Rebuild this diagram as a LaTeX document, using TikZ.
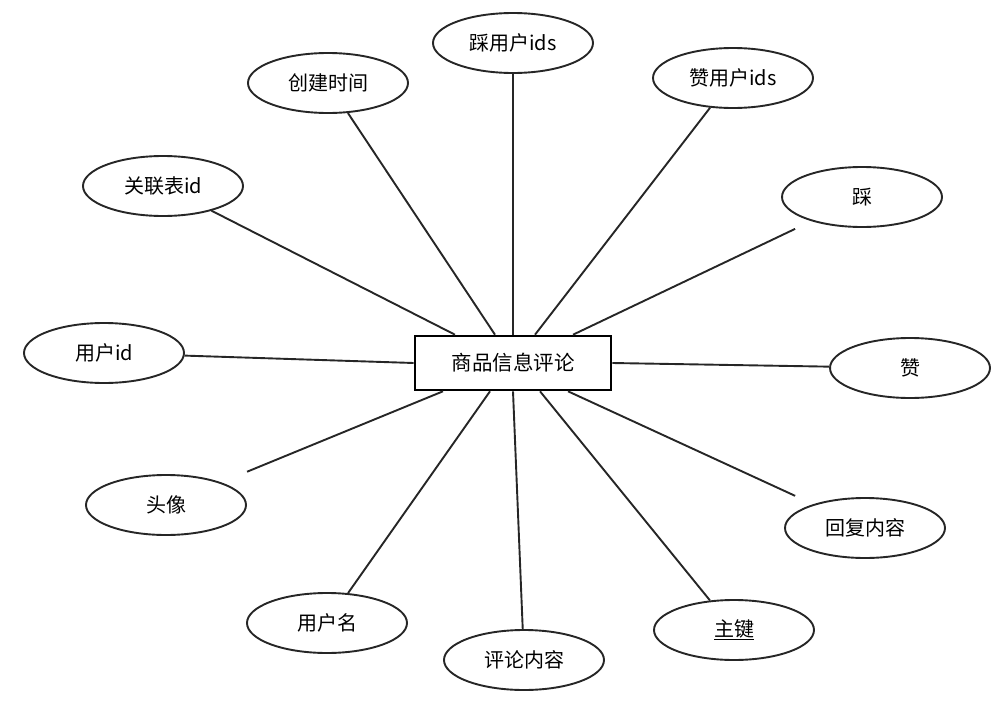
\documentclass[tikz,border=0pt]{standalone}
\usepackage{fontspec}
\usepackage{tikz}
\usetikzlibrary{shapes.geometric}
\newfontfamily\cjk{Noto Sans CJK SC}

\begin{document}
\begin{tikzpicture}[
    x=1pt, y=-1pt,
    entity/.style={rectangle, draw=black, line width=2.6pt, fill=white, minimum width=196pt, minimum height=54pt, font=\cjk\fontsize{20.5}{24}\selectfont},
    attr/.style={ellipse, draw=black!85, line width=1.9pt, fill=white, minimum width=160pt, minimum height=60pt, inner sep=0pt, font=\cjk\fontsize{20}{24}\selectfont},
    link/.style={draw=black!85, line width=1.9pt}
]
    \useasboundingbox (0,0) rectangle (1007,720);

    % Central entity
    \node[entity] (comment) at (513,363) {商品信息评论};

    % Attributes
    \node[attr] (caiids) at (513,43) {踩用户ids};
    \node[attr] (ctime) at (328,83) {创建时间};
    \node[attr] (zanids) at (733,78) {赞用户ids};
    \node[attr] (relid) at (163,186) {关联表id};
    \node[attr] (cai) at (862,197) {踩};
    \node[attr] (userid) at (104,353) {用户id};
    \node[attr] (zan) at (910,368) {赞};
    \node[attr] (avatar) at (166,505) {头像};
    \node[attr] (reply) at (865,528) {回复内容};
    \node[attr] (uname) at (327,623) {用户名};
    \node[attr] (pkey) at (734,630) {\underline{主键}};
    \node[attr] (content) at (524,660) {评论内容};

    % Links from the top edge
    \draw[link] ([xshift=-58pt]comment.north) -- (relid);
    \draw[link] ([xshift=-18pt]comment.north) -- (ctime);
    \draw[link] (comment.north) -- (caiids);
    \draw[link] ([xshift=22pt]comment.north) -- (zanids);
    \draw[link, shorten >=18pt] ([xshift=60pt]comment.north) -- (cai);

    % Links from the sides
    \draw[link] (comment.west) -- (userid);
    \draw[link] (comment.east) -- (zan);

    % Links from the bottom edge
    \draw[link, shorten >=28pt] ([xshift=-70pt]comment.south) -- (avatar);
    \draw[link] ([xshift=-23pt]comment.south) -- (uname);
    \draw[link] (comment.south) -- (content);
    \draw[link] ([xshift=27pt]comment.south) -- (pkey);
    \draw[link, shorten >=20pt] ([xshift=55pt]comment.south) -- (reply);

\end{tikzpicture}
\end{document}
